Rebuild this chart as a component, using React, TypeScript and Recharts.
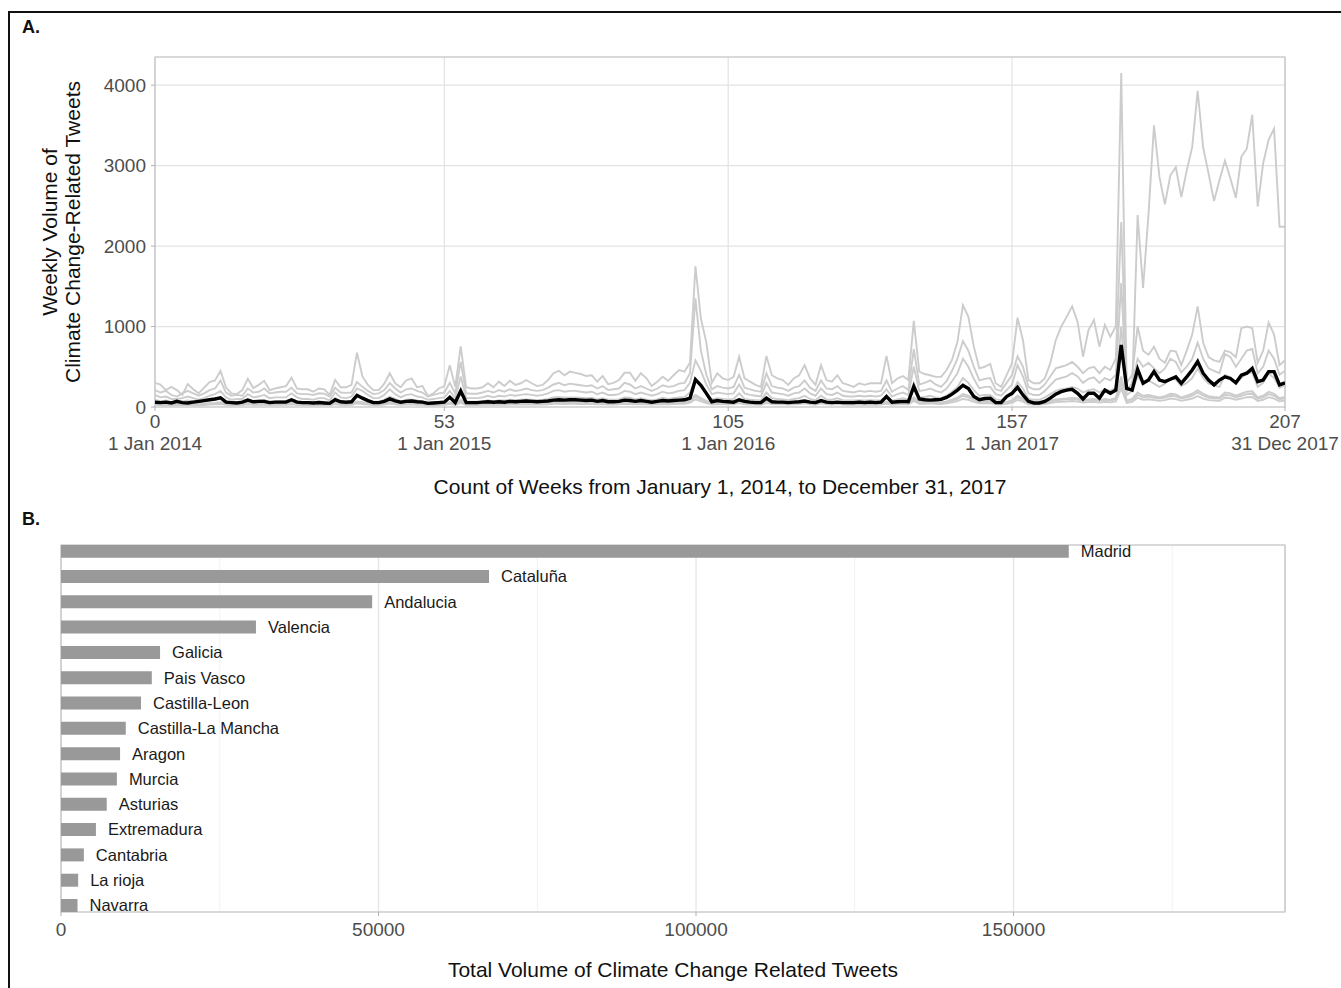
import {
  Bar,
  BarChart,
  CartesianGrid,
  LabelList,
  Line,
  LineChart,
  ReferenceArea,
  ReferenceLine,
  XAxis,
  YAxis,
} from "recharts";

const FONT = "'Liberation Sans', Arial, Helvetica, sans-serif";

// Panel A: weekly volume per region (grey) and the average (black)
const weekTicks = [0, 53, 105, 157, 207];
const weekTickDates = ["1 Jan 2014", "1 Jan 2015", "1 Jan 2016", "1 Jan 2017", "31 Dec 2017"];
const volumeTicks = [0, 1000, 2000, 3000, 4000];

const madridWeekly = [
  300, 280, 210, 250, 210, 150, 285, 220, 170, 240, 310, 330, 450, 245, 170, 160,
  210, 350, 235, 275, 325, 210, 230, 245, 260, 365, 230, 220, 220, 190, 230, 220,
  150, 335, 245, 245, 275, 675, 380, 275, 210, 210, 290, 420, 295, 245, 330, 355,
  245, 260, 135, 170, 230, 260, 520, 250, 755, 245, 230, 230, 245, 295, 245, 315,
  260, 325, 275, 295, 335, 295, 260, 275, 335, 420, 450, 395, 440, 425, 410, 385,
  395, 315, 385, 285, 300, 335, 425, 425, 325, 420, 360, 260, 315, 375, 325, 395,
  460, 440, 550, 1750, 1100, 800, 300, 420, 355, 335, 375, 625, 355, 315, 275, 250,
  635, 395, 355, 335, 275, 355, 395, 520, 355, 275, 520, 335, 315, 395, 295, 275,
  250, 295, 275, 295, 295, 295, 635, 295, 355, 385, 335, 1070, 440, 410, 395, 375,
  375, 460, 585, 810, 1265, 1120, 750, 480, 500, 535, 295, 250, 395, 545, 1110, 830,
  335, 295, 295, 355, 545, 830, 1000, 1120, 1250, 1060, 625, 955, 1080, 750, 1020, 875,
  1000, 4150, 250, 200, 2385, 1480, 2400, 3500, 2860, 2520, 2880, 2980, 2610, 2940, 3230, 3930,
  3230, 2900, 2560, 2820, 3060, 2840, 2600, 3110, 3210, 3630, 2490, 3030, 3320, 3460, 2240, 2240,
];

const catalunaWeekly = [
  210, 180, 200, 150, 130, 170, 200, 170, 140, 170, 210, 230, 330, 180, 140, 150,
  140, 230, 180, 190, 230, 170, 180, 190, 190, 240, 170, 160, 160, 150, 170, 165,
  130, 240, 180, 175, 180, 310, 250, 200, 160, 170, 210, 300, 230, 180, 220, 230,
  200, 180, 130, 150, 170, 180, 300, 170, 560, 170, 165, 165, 180, 200, 180, 210,
  190, 220, 200, 210, 230, 210, 200, 210, 240, 280, 300, 270, 290, 280, 270, 260,
  270, 230, 260, 210, 220, 230, 300, 280, 230, 260, 230, 200, 230, 270, 250, 260,
  290, 300, 420, 1350, 700, 400, 220, 260, 240, 230, 250, 400, 240, 220, 200, 190,
  420, 260, 240, 230, 200, 240, 260, 330, 240, 200, 330, 230, 220, 260, 200, 190,
  180, 200, 190, 200, 190, 200, 330, 190, 230, 260, 210, 720, 280, 300, 330, 280,
  250, 320, 450, 600, 820, 700, 500, 330, 350, 360, 220, 200, 300, 400, 630, 500,
  250, 220, 220, 280, 380, 480, 500, 520, 560, 500, 420, 480, 500, 420, 500, 460,
  600, 2300, 300, 400, 1000, 700, 650, 750, 600, 550, 700, 690, 520, 700, 900, 1250,
  800, 620, 580, 560, 700, 680, 620, 980, 1000, 980, 550, 700, 1050, 900, 520, 580,
];

const andaluciaWeekly = [
  150, 120, 130, 100, 100, 110, 130, 110, 90, 110, 140, 160, 200, 120, 90, 100,
  100, 160, 120, 130, 150, 110, 120, 120, 120, 170, 120, 100, 100, 90, 110, 110,
  80, 180, 120, 110, 130, 230, 200, 150, 110, 110, 150, 220, 160, 120, 150, 160,
  130, 120, 90, 100, 110, 120, 200, 110, 380, 110, 110, 110, 120, 140, 120, 140,
  130, 150, 140, 150, 160, 150, 140, 150, 170, 200, 210, 190, 200, 200, 190, 180,
  190, 160, 180, 150, 150, 160, 200, 190, 160, 180, 160, 140, 160, 190, 170, 180,
  200, 210, 300, 580, 450, 280, 160, 180, 170, 160, 170, 280, 170, 150, 140, 130,
  300, 180, 170, 160, 140, 170, 180, 230, 170, 140, 230, 160, 150, 180, 140, 130,
  130, 140, 130, 140, 130, 140, 220, 130, 160, 180, 150, 500, 200, 210, 230, 200,
  180, 230, 320, 420, 600, 500, 350, 230, 250, 250, 160, 140, 210, 280, 520, 380,
  170, 150, 150, 200, 270, 340, 360, 380, 420, 380, 300, 350, 370, 300, 360, 330,
  400, 1540, 200, 300, 600, 500, 550, 480, 420, 480, 600, 560, 430, 500, 600, 800,
  600, 480, 450, 420, 660, 620, 500, 600, 700, 720, 420, 500, 700, 600, 400, 450,
];

const valenciaWeekly = [
  90, 70, 80, 60, 60, 70, 80, 70, 55, 70, 85, 95, 120, 75, 55, 60,
  60, 95, 70, 80, 90, 65, 70, 75, 75, 100, 70, 60, 60, 55, 65, 65,
  50, 110, 70, 65, 80, 150, 120, 90, 65, 65, 90, 130, 100, 70, 90, 95,
  80, 70, 55, 60, 65, 75, 130, 65, 220, 65, 65, 65, 70, 85, 70, 85,
  80, 90, 85, 90, 95, 90, 85, 90, 100, 120, 125, 115, 120, 120, 115, 110,
  115, 95, 110, 90, 90, 95, 120, 115, 95, 110, 95, 85, 95, 115, 100, 110,
  120, 125, 180, 350, 260, 170, 95, 110, 100, 95, 100, 170, 100, 90, 85, 80,
  180, 110, 100, 95, 85, 100, 110, 140, 100, 85, 140, 95, 90, 110, 85, 80,
  80, 85, 80, 85, 80, 85, 130, 80, 95, 110, 90, 300, 120, 125, 140, 120,
  110, 140, 190, 250, 360, 300, 210, 140, 150, 150, 95, 85, 125, 170, 310, 230,
  100, 90, 90, 120, 160, 200, 220, 230, 250, 230, 180, 210, 220, 180, 220, 200,
  240, 1000, 150, 200, 380, 300, 330, 290, 250, 290, 360, 340, 260, 300, 360, 480,
  360, 290, 270, 250, 400, 370, 300, 360, 420, 430, 250, 300, 420, 360, 240, 270,
];

const galiciaWeekly = [
  45, 40, 42, 35, 38, 40, 45, 40, 35, 40, 48, 50, 60, 40, 35, 36,
  36, 50, 40, 44, 48, 38, 40, 42, 42, 52, 40, 36, 36, 34, 38, 38,
  30, 55, 40, 38, 44, 70, 60, 48, 38, 38, 48, 65, 50, 40, 48, 50,
  44, 40, 32, 35, 38, 42, 60, 38, 90, 38, 38, 38, 40, 46, 40, 46,
  44, 48, 46, 48, 52, 48, 46, 48, 54, 62, 64, 60, 62, 62, 60, 58,
  60, 52, 58, 48, 48, 52, 62, 60, 52, 58, 52, 46, 52, 60, 54, 58,
  62, 64, 85, 150, 110, 75, 50, 58, 54, 52, 54, 80, 54, 48, 46, 44,
  80, 58, 54, 52, 46, 54, 58, 70, 54, 46, 70, 52, 48, 58, 46, 44,
  44, 46, 44, 46, 44, 46, 65, 44, 52, 58, 50, 120, 62, 64, 70, 62,
  58, 70, 90, 115, 160, 140, 100, 70, 74, 76, 50, 46, 62, 82, 140, 105,
  52, 48, 48, 60, 78, 95, 100, 105, 115, 105, 85, 95, 100, 85, 100, 92,
  110, 380, 80, 100, 180, 140, 150, 135, 120, 135, 165, 155, 120, 140, 165, 210,
  165, 135, 125, 120, 180, 170, 140, 165, 190, 195, 120, 140, 190, 165, 110, 125,
];

const paisVascoWeekly = [
  35, 38, 30, 33, 30, 28, 36, 32, 30, 34, 40, 42, 50, 34, 30, 30,
  32, 44, 34, 36, 40, 32, 34, 36, 34, 46, 34, 32, 30, 30, 34, 32,
  28, 46, 34, 34, 38, 60, 52, 40, 32, 34, 40, 56, 44, 34, 40, 44,
  38, 36, 28, 30, 34, 36, 50, 34, 70, 34, 32, 34, 36, 40, 34, 40,
  38, 42, 40, 42, 46, 42, 40, 42, 46, 54, 56, 52, 54, 54, 52, 50,
  52, 46, 50, 42, 42, 46, 54, 52, 46, 50, 46, 40, 46, 52, 48, 50,
  54, 56, 75, 130, 95, 65, 44, 50, 48, 46, 48, 70, 48, 42, 40, 38,
  70, 50, 48, 46, 40, 48, 50, 60, 48, 40, 60, 46, 42, 50, 40, 38,
  38, 40, 38, 40, 38, 40, 56, 38, 46, 50, 44, 100, 54, 56, 60, 54,
  50, 60, 78, 100, 140, 120, 88, 60, 64, 66, 44, 40, 54, 72, 120, 90,
  46, 42, 42, 52, 68, 82, 88, 92, 100, 92, 74, 82, 88, 74, 88, 80,
  96, 300, 70, 90, 150, 120, 130, 115, 105, 118, 140, 132, 105, 120, 140, 180,
  140, 115, 108, 104, 150, 145, 120, 140, 160, 165, 104, 120, 160, 140, 96, 108,
];

const castillaLeonWeekly = [
  28, 25, 27, 22, 24, 25, 28, 25, 22, 25, 30, 32, 38, 26, 22, 23,
  23, 32, 26, 28, 30, 24, 26, 27, 27, 33, 26, 23, 23, 22, 24, 24,
  20, 35, 26, 24, 28, 45, 38, 30, 24, 24, 30, 42, 32, 26, 30, 32,
  28, 26, 20, 22, 24, 27, 38, 24, 55, 24, 24, 24, 26, 30, 26, 30,
  28, 30, 29, 30, 33, 30, 29, 30, 34, 40, 41, 38, 40, 40, 38, 37,
  38, 33, 37, 30, 30, 33, 40, 38, 33, 37, 33, 29, 33, 38, 34, 37,
  40, 41, 55, 95, 70, 48, 32, 37, 34, 33, 34, 50, 34, 30, 29, 28,
  50, 37, 34, 33, 29, 34, 37, 45, 34, 29, 45, 33, 30, 37, 29, 28,
  28, 29, 28, 29, 28, 29, 42, 28, 33, 37, 32, 75, 40, 41, 45, 40,
  37, 45, 58, 74, 100, 88, 64, 45, 47, 48, 32, 29, 40, 52, 88, 66,
  33, 30, 30, 38, 50, 60, 64, 67, 74, 67, 54, 60, 64, 54, 64, 58,
  70, 230, 52, 64, 115, 90, 96, 86, 76, 86, 105, 98, 76, 90, 105, 135,
  105, 86, 80, 76, 115, 108, 90, 105, 122, 125, 76, 90, 122, 105, 70, 80,
];

const averageWeekly = [
  60, 55, 60, 50, 70, 55, 50, 60, 70, 80, 90, 100, 115, 60, 55, 50,
  60, 85, 65, 70, 70, 55, 60, 60, 60, 90, 60, 55, 55, 50, 55, 50,
  45, 90, 65, 60, 65, 145, 110, 80, 55, 55, 70, 100, 75, 60, 70, 75,
  65, 60, 45, 50, 55, 60, 120, 55, 200, 55, 55, 55, 60, 65, 60, 65,
  60, 70, 65, 70, 75, 70, 65, 70, 75, 85, 90, 85, 90, 90, 85, 80,
  85, 70, 80, 65, 65, 70, 85, 80, 70, 80, 70, 60, 70, 80, 75, 80,
  85, 90, 110, 340, 270, 170, 65, 80, 70, 65, 60, 90, 70, 60, 55, 55,
  110, 65, 60, 60, 55, 60, 65, 75, 60, 55, 80, 60, 55, 60, 55, 55,
  55, 60, 55, 60, 55, 60, 130, 60, 65, 70, 65, 255, 100, 90, 85, 90,
  95, 120, 160, 210, 270, 230, 130, 90, 105, 110, 55, 55, 130, 170, 245, 150,
  70, 50, 50, 70, 110, 160, 190, 210, 220, 170, 100, 170, 170, 110, 210, 170,
  210, 770, 230, 210, 470, 295, 335, 440, 335, 315, 345, 375, 295, 375, 460, 565,
  420, 335, 275, 335, 375, 355, 300, 395, 420, 480, 315, 335, 440, 440, 275, 300,
];

const greySeries: [string, number[]][] = [
  ["castillaLeon", castillaLeonWeekly],
  ["paisVasco", paisVascoWeekly],
  ["galicia", galiciaWeekly],
  ["valencia", valenciaWeekly],
  ["andalucia", andaluciaWeekly],
  ["cataluna", catalunaWeekly],
  ["madrid", madridWeekly],
];

const weeklyRows = averageWeekly.map((avg, week) => {
  const row: Record<string, number> = { week, average: avg };
  greySeries.forEach(([key, values]) => {
    row[key] = values[week];
  });
  return row;
});

// Panel B: total volume per region
const regions = [
  "Madrid", "Cataluña", "Andalucia", "Valencia", "Galicia", "Pais Vasco", "Castilla-Leon",
  "Castilla-La Mancha", "Aragon", "Murcia", "Asturias", "Extremadura", "Cantabria", "La rioja", "Navarra",
];
const regionTotals = [
  158700, 67400, 49000, 30700, 15600, 14300, 12600, 10200, 9300, 8800, 7200, 5500, 3600, 2700, 2600,
];
const totalTicks = [0, 50000, 100000, 150000];
const totalMinorTicks = [25000, 75000, 125000, 175000];

// pos 1 is drawn at the top of panel B
const regionRows = regions.map((region, i) => ({
  region,
  total: regionTotals[i],
  pos: i + 1,
}));

const WeekTick = ({ x, y, payload }: any) => {
  const idx = weekTicks.indexOf(payload.value);
  return (
    <text x={x} y={y} textAnchor="middle" fill="#4d4d4d" fontSize={19} fontFamily={FONT}>
      <tspan x={x} dy={15}>{payload.value}</tspan>
      <tspan x={x} dy={22}>{weekTickDates[idx]}</tspan>
    </text>
  );
};

const GRID = "#e3e3e3";
const BORDER = "#c2c2c2";

export default function App() {
  return (
    <div
      style={{
        position: "absolute",
        left: 0,
        top: 0,
        width: 1341,
        height: 988,
        background: "#fff",
        overflow: "hidden",
        fontFamily: FONT,
      }}
    >
      <div style={{ position: "absolute", left: 0, top: 0 }}>
        <LineChart
          width={1341}
          height={500}
          data={weeklyRows}
          margin={{ top: 57, right: 56, left: 95, bottom: 33 }}
        >
          <CartesianGrid stroke={GRID} strokeWidth={1.2} />
          <XAxis
            dataKey="week"
            type="number"
            domain={[0, 207]}
            ticks={weekTicks}
            allowDataOverflow
            axisLine={false}
            tickLine={{ stroke: "#b0b0b0" }}
            tickSize={4}
            tickMargin={2}
            height={60}
            interval={0}
            tick={<WeekTick />}
          />
          <YAxis
            type="number"
            domain={[0, 4350]}
            ticks={volumeTicks}
            allowDataOverflow
            axisLine={false}
            tickLine={{ stroke: "#b0b0b0" }}
            tickSize={4}
            tickMargin={5}
            width={60}
            interval={0}
            tick={{ fill: "#4d4d4d", fontSize: 19, fontFamily: FONT }}
          />
          <ReferenceArea x1={0} x2={207} y1={0} y2={4350} fill="none" stroke={BORDER} strokeWidth={1.2} />
          {greySeries.map(([key]) => (
            <Line
              key={key}
              dataKey={key}
              type="linear"
              stroke="#cccccc"
              strokeWidth={1.9}
              dot={false}
              activeDot={false}
              isAnimationActive={false}
            />
          ))}
          <Line
            dataKey="average"
            type="linear"
            stroke="#000000"
            strokeWidth={3.4}
            dot={false}
            activeDot={false}
            isAnimationActive={false}
          />
        </LineChart>
      </div>

      <div style={{ position: "absolute", left: 0, top: 500 }}>
        <BarChart
          width={1341}
          height={488}
          data={regionRows}
          layout="vertical"
          margin={{ top: 45, right: 56, left: 61, bottom: 36 }}
        >
          <CartesianGrid stroke={GRID} strokeWidth={1.2} />
          {totalMinorTicks.map((t) => (
            <ReferenceLine key={t} x={t} stroke="#f2f2f2" strokeWidth={1} zIndex={-60} />
          ))}
          <XAxis
            type="number"
            domain={[0, 192750]}
            ticks={totalTicks}
            allowDataOverflow
            axisLine={false}
            tickLine={{ stroke: "#b0b0b0" }}
            tickSize={4}
            tickMargin={7}
            height={40}
            interval={0}
            tick={{ fill: "#4d4d4d", fontSize: 19, fontFamily: FONT }}
          />
          <YAxis
            dataKey="pos"
            type="number"
            domain={[0.75, 15.25]}
            ticks={regionRows.map((r) => r.pos)}
            allowDataOverflow
            axisLine={false}
            tickLine={false}
            tick={false}
            width={0}
            interval={0}
          />
          <ReferenceArea x1={0} x2={192750} y1={0.75} y2={15.25} fill="none" stroke={BORDER} strokeWidth={1.2} />
          <Bar dataKey="total" fill="#999999" barSize={13} isAnimationActive={false}>
            <LabelList
              dataKey="region"
              position="right"
              offset={12}
              fill="#1a1a1a"
              fontSize={16.5}
              fontFamily={FONT}
            />
          </Bar>
        </BarChart>
      </div>

      <svg
        width={1341}
        height={988}
        style={{ position: "absolute", left: 0, top: 0, pointerEvents: "none" }}
        fontFamily={FONT}
      >
        <rect x={9} y={12} width={1400} height={1000} fill="none" stroke="#111" strokeWidth={2} />
        <text x={22} y={33} fontSize={18} fontWeight="bold" fill="#111">A.</text>
        <text x={22} y={525} fontSize={18} fontWeight="bold" fill="#111">B.</text>
        <text x={57} y={232} fontSize={21} fill="#111" textAnchor="middle" transform="rotate(-90 57 232)">
          Weekly Volume of
        </text>
        <text x={80} y={232} fontSize={21} fill="#111" textAnchor="middle" transform="rotate(-90 80 232)">
          Climate Change-Related Tweets
        </text>
        <text x={720} y={494} fontSize={21} fill="#111" textAnchor="middle">
          Count of Weeks from January 1, 2014, to December 31, 2017
        </text>
        <text x={673} y={977} fontSize={21} fill="#111" textAnchor="middle">
          Total Volume of Climate Change Related Tweets
        </text>
      </svg>
    </div>
  );
}
